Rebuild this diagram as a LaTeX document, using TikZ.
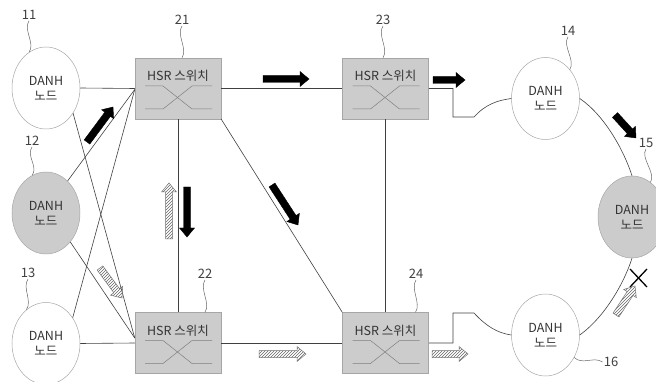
\documentclass[tikz,border=0pt]{standalone}
\usepackage{fontspec}
\newfontfamily\krfont{Noto Sans CJK KR}
\usetikzlibrary{calc,patterns,shapes.geometric}

\tikzset{
  conn/.style={draw=black!75, line width=0.6pt},
  plainnode/.style={ellipse, draw=black!35, line width=0.5pt, minimum width=68pt, minimum height=82pt, inner sep=0pt, align=center, font=\krfont\fontsize{12.5}{15}\selectfont, text=black!80},
  shadenode/.style={plainnode, fill=black!20},
  sw/.style={rectangle, draw=black!35, line width=0.5pt, fill=black!20, minimum width=86pt, minimum height=61pt, inner sep=0pt},
  swtext/.style={font=\krfont\fontsize{12.5}{14}\selectfont, text=black!80, inner sep=0pt},
  xline/.style={draw=black!50, line width=0.5pt},
  num/.style={font=\krfont\fontsize{13}{14}\selectfont, text=black!75, inner sep=1pt},
  lead/.style={draw=black!60, line width=0.5pt},
  solidarrow/.style={fill=black, draw=black, line width=0.4pt, line join=miter},
  hatcharrow/.style={draw=black!55, line width=0.5pt, pattern=north east lines, pattern color=black!60},
  crossmark/.style={draw=black, line width=1.3pt},
}

\newcommand\fatarrow[3]{%
  \coordinate (fa-t) at #2;
  \coordinate (fa-h) at #3;
  \coordinate (fa-b) at ($(fa-h)!9pt!(fa-t)$);
  \draw[#1] ($(fa-t)!3.5pt!90:(fa-h)$) -- ($(fa-b)!3.5pt!-90:(fa-t)$) -- ($(fa-b)!7.5pt!-90:(fa-t)$) -- (fa-h) -- ($(fa-b)!7.5pt!90:(fa-t)$) -- ($(fa-b)!3.5pt!90:(fa-t)$) -- ($(fa-t)!3.5pt!-90:(fa-h)$) -- cycle;
}

\newcommand\hsrswitch[3]{%
  \node[sw] (#1) at (#2,#3) {};
  \node[swtext] (#1-t) at ($(#1)+(0,-12.5)$) {HSR 스위치};
  \draw[xline] ($(#1)+(-33,-2.5)$) -- ($(#1)+(-15,-2.5)$) -- ($(#1)+(14,20.5)$) -- ($(#1)+(34,20.5)$);
  \draw[xline] ($(#1)+(-33,20.5)$) -- ($(#1)+(-15,20.5)$) -- ($(#1)+(14,-2.5)$) -- ($(#1)+(34,-2.5)$);
}

\newcommand\leader[2]{\draw[lead] (#1) .. controls +(-6,9) and +(6,-9) .. (#2);}

\begin{document}
\begin{tikzpicture}[x=1pt,y=-1pt]
\useasboundingbox (0,0) rectangle (656,382);
\clip (0,0) rectangle (656,382);

% DANH nodes
\node[plainnode] (n11) at (46,88) {DANH\\노드};
\node[shadenode] (n12) at (46,213) {DANH\\노드};
\node[plainnode] (n13) at (46,343.5) {DANH\\노드};
\node[plainnode] (n14) at (545.5,98.5) {DANH\\노드};
\node[shadenode] (n15) at (632,217) {DANH\\노드};
\node[plainnode] (n16) at (545.5,335) {DANH\\노드};

% HSR switches
\hsrswitch{s21}{178}{88.5}
\hsrswitch{s23}{385.5}{88.5}
\hsrswitch{s22}{178}{343}
\hsrswitch{s24}{385.5}{343}

% connections left
\draw[conn] (n11.east) -- (s21.west);
\draw[conn] (n11.-43) -- ([yshift=5pt]s22.west);
\draw[conn] (n12.56) -- ([yshift=-1pt]s21.west);
\draw[conn] (n12.-50) -- ([yshift=5pt]s22.west);
\draw[conn] (n13.44) -- ([yshift=-1pt]s21.west);
\draw[conn] (n13.east) -- (s22.west);

% switch mesh
\draw[conn] (s21.east) -- (s23.west);
\draw[conn] (s21.south) -- (s22.north);
\draw[conn] (s21.south east) -- (s24.north west);
\draw[conn] (s23.south) -- (s24.north);
\draw[conn] (s22.east) -- (s24.west);

% ring
\coordinate (k1) at (453,117);
\coordinate (k2) at (474,117);
\coordinate (k3) at (453,313);
\coordinate (k4) at (474,313);
\draw[conn] (s23.east) -| (k1) -- (k2) .. controls +(12,-13) and +(-14,2) .. (n14.west);
\draw[conn] (s24.east) -| (k3) -- (k4) .. controls +(12,13) and +(-14,-2) .. (n16.west);
\draw[conn] (n14.east) .. controls +(25,17) and +(-8,-25) .. (n15.north);
\draw[conn] (n16.east) .. controls +(25,-18) and +(-8,25) .. (n15.south);

% break mark
\draw[crossmark] (630,269) -- (647,287) (647,269) -- (630,287);

% labels
\node[num] (l11) at (29,15) {11};
\node[num] (l12) at (32,141) {12};
\node[num] (l13) at (28,273) {13};
\node[num] (l14) at (568,31) {14};
\node[num] (l15) at (646,143) {15};
\node[num] (l16) at (611,362) {16};
\node[num] (l21) at (182,20) {21};
\node[num] (l22) at (205,274) {22};
\node[num] (l23) at (383,20) {23};
\node[num] (l24) at (416,274) {24};

\leader{l11.south}{n11.115}
\leader{l12.south}{n12.110}
\leader{l13.south}{n13.120}
\leader{l14.south}{n14.50}
\leader{l15.south}{n15.62}
\leader{l21.south}{[xshift=4pt]s21.north}
\leader{l23.south}{[xshift=-2.5pt]s23.north}
\leader{l22.south}{[xshift=27pt]s22.north}
\leader{l24.south}{[xshift=30pt]s24.north}
\draw[lead] (n16.-38) .. controls +(8,8) and +(-9,-6) .. (l16.west);

% solid arrows
\fatarrow{solidarrow}{(87,142)}{(113,107)}
\fatarrow{solidarrow}{(263,79)}{(309,79)}
\fatarrow{solidarrow}{(433,80)}{(465,80)}
\fatarrow{solidarrow}{(615,115)}{(636,138)}
\fatarrow{solidarrow}{(187,187)}{(187,237)}
\fatarrow{solidarrow}{(272,185)}{(298,225)}

% hatched arrows
\fatarrow{hatcharrow}{(169,239)}{(169,183)}
\fatarrow{hatcharrow}{(100,268)}{(122,298)}
\fatarrow{hatcharrow}{(259,354)}{(306,354)}
\fatarrow{hatcharrow}{(432,354)}{(468,354)}
\fatarrow{hatcharrow}{(616,315)}{(635,286)}
\end{tikzpicture}
\end{document}
